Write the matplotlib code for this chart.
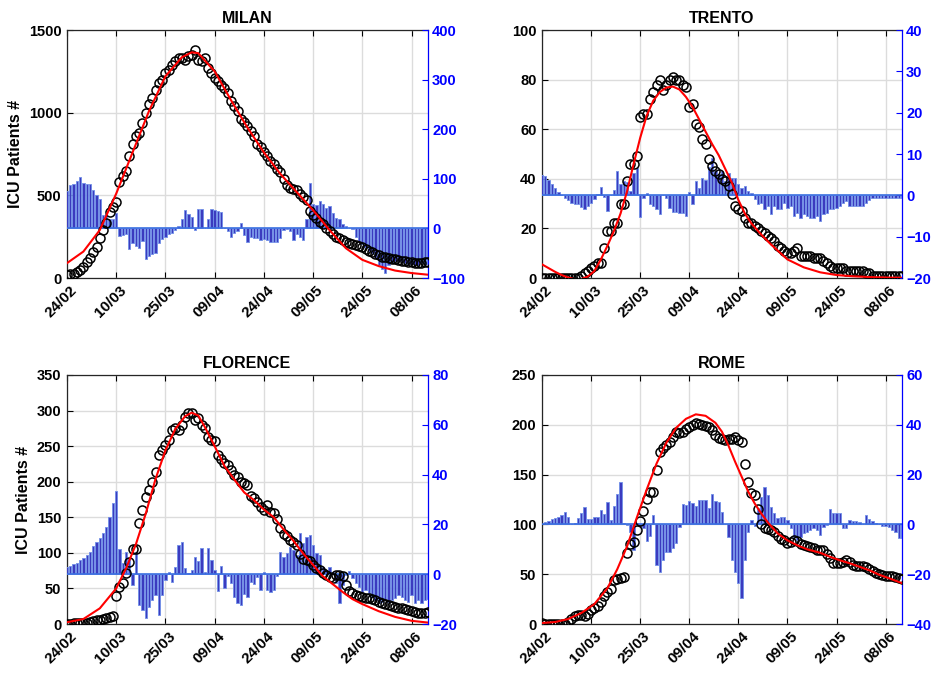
import matplotlib
matplotlib.use('Agg')
import matplotlib.pyplot as plt
from matplotlib.transforms import ScaledTranslation

plt.rcParams['font.family'] = ['Liberation Sans', 'DejaVu Sans']
plt.rcParams['font.weight'] = 'bold'
plt.rcParams['axes.titleweight'] = 'bold'
plt.rcParams['axes.labelweight'] = 'bold'

# day index 0 = 24/02
days = list(range(111))
tick_days = [0, 15, 30, 45, 60, 75, 90, 105]
tick_labels = ['24/02', '10/03', '25/03', '09/04', '24/04', '09/05', '24/05', '08/06']

# ---------------- MILAN ----------------
milan_icu = [20, 22, 25, 35, 50, 65, 95, 120, 160, 190,
             240, 290, 330, 400, 430, 460, 580, 620, 650, 740,
             810, 860, 880, 940, 1000, 1050, 1090, 1140, 1180, 1200,
             1240, 1260, 1290, 1310, 1330, 1330, 1320, 1340, 1350, 1380,
             1320, 1315, 1330, 1270, 1240, 1210, 1190, 1165, 1150, 1120,
             1070, 1040, 1010, 960, 945, 920, 890, 860, 810, 790,
             760, 740, 710, 690, 660, 640, 600, 560, 545, 540,
             530, 510, 490, 470, 405, 380, 360, 340, 325, 300,
             285, 265, 250, 240, 230, 220, 210, 205, 200, 195,
             185, 175, 165, 155, 145, 140, 130, 125, 120, 115,
             112, 108, 104, 100, 98, 95, 93, 92, 92, 95,
             98]
milan_fit_days = [0, 5, 10, 15, 20, 25, 30, 35, 38, 40, 45, 50, 55, 60, 65, 70, 75, 80, 85, 90, 95, 100, 105, 110]
milan_fit = [90, 160, 290, 510, 760, 1010, 1220, 1335, 1365, 1360, 1250, 1075,
             910, 760, 630, 520, 410, 290, 180, 110, 72, 45, 30, 20]
milan_bars = [75, 88, 90, 95, 103, 92, 90, 90, 78, 68,
              60, 28, 30, 18, 18, 32, -15, -14, -12, -42,
              -30, -35, -39, -25, -62, -55, -52, -49, -30, -22,
              -18, -12, -10, -3, 5, 18, 38, 29, 24, -3,
              40, 39, 0, 18, 40, 37, 36, 33, 0, -5,
              -18, -10, -6, 11, -14, -28, -18, -19, -20, -24,
              -22, -24, -27, -28, -27, -20, -3, -2, -6, -23,
              -12, -18, -24, 18, 92, 50, 48, 55, 50, 42,
              45, 32, 22, 18, 8, 4, 1, -2, -18, -25,
              -32, -38, -45, -49, -58, -73, -82, -90, -74, -70,
              -66, -66, -68, -70, -72, -72, -74, -74, -70, -72,
              -72]

# ---------------- TRENTO ----------------
trento_icu = [0, 0, 0, 0, 0, 0, 0, 0, 0, 0,
              0, 0, 1, 2, 3, 4, 5, 6, 6, 12,
              19, 19, 22, 22, 30, 30, 39, 46, 46, 49,
              65, 66, 66, 72, 75, 78, 80, 76, 78, 80,
              81, 80, 80, 78, 77, 69, 70, 62, 61, 56,
              54, 48, 45, 43, 42, 40, 39, 37, 34, 29,
              28, 27, 24, 22, 22, 21, 20, 19, 18, 17,
              16, 15, 13, 12, 11, 10, 10, 11, 12, 9,
              9, 9, 9, 8, 8, 8, 7, 6, 5, 4,
              4, 4, 4, 3, 3, 3, 3, 3, 3, 2,
              2, 1, 1, 1, 1, 1, 1, 1, 1, 1,
              1]
trento_fit_days = [0, 2, 4, 6, 8, 10, 12, 14, 16, 18, 20, 22, 24, 26, 28, 30, 32, 34, 36, 38,
                   40, 42, 44, 46, 48, 50, 52, 54, 56, 58, 60, 62, 64, 67, 70, 75, 80, 85, 90,
                   95, 100, 105, 110]
trento_fit = [5.5, 4.0, 2.5, 1.2, 0.2, -0.5, -0.4, 0.6, 2.8, 7.5, 13, 19, 26, 35, 46, 56.5,
              65.5, 71.5, 75, 76.8, 77.2, 76, 73, 69, 64, 59, 54, 49.5, 44, 38.5, 31.5, 26,
              22, 17.5, 13.5, 7.5, 4.3, 2.3, 1.2, 0.7, 0.4, 0.2, 0.1]
trento_bars = [4.9, 4.6, 3.6, 2.8, 1.8, 0.9, 0.1, -0.6, -1.2, -1.8,
               -2.2, -2.2, -2.8, -3.4, -2.6, -1.8, -1.0, 0.4, 2.1, -0.4,
               -3.8, 0.2, 1.4, 6.0, 2.7, 3.5, 3.2, 1.0, 5.3, 6.7,
               -5.2, -0.6, 0.6, -2.2, -2.6, -3.4, -4.6, 0.2, -0.6, -3.0,
               -4.0, -4.0, -4.2, -4.2, -5.0, 0.8, -2.2, 3.5, 1.8, 4.3,
               3.6, 6.8, 9.1, 5.9, 5.1, 5.9, 3.5, 5.5, 4.1, 4.1,
               2.7, 1.8, 2.3, 1.0, 0.5, -1.0, -2.2, -1.8, -3.4, -2.6,
               -4.6, -2.6, -3.4, -3.4, -1.8, -3.0, -2.6, -5.0, -4.2, -5.4,
               -4.6, -5.0, -5.4, -5.6, -5.0, -6.2, -4.6, -4.2, -3.4, -3.4,
               -3.0, -2.6, -1.8, -1.4, -2.6, -2.6, -2.6, -2.6, -2.6, -1.8,
               -1.2, -0.6, -0.6, -0.6, -0.6, -0.6, -0.6, -0.6, -0.6, -0.6,
               -0.6]

# ---------------- FLORENCE ----------------
florence_icu = [0, 0, 1, 1, 1, 2, 2, 3, 4, 5,
                6, 7, 9, 10, 11, 39, 52, 58, 72, 87,
                106, 106, 142, 160, 178, 188, 200, 214, 238, 245,
                252, 259, 273, 275, 273, 280, 291, 297, 296, 287,
                289, 280, 276, 263, 259, 257, 238, 232, 226, 224,
                216, 209, 207, 200, 198, 196, 180, 177, 172, 165,
                160, 167, 158, 156, 148, 135, 127, 123, 118, 115,
                111, 99, 92, 90, 88, 83, 79, 76, 72, 69,
                66, 64, 69, 69, 67, 55, 46, 43, 41, 40,
                38, 37, 36, 35, 34, 31, 29, 28, 27, 25,
                24, 23, 22, 21, 20, 18, 17, 16, 15, 16,
                17]
florence_fit_days = [0, 5, 10, 15, 18, 21, 24, 27, 30, 33, 36, 38, 40, 42, 45, 48, 51, 54, 57,
                     60, 63, 66, 69, 72, 75, 78, 81, 84, 87, 90, 95, 100, 105, 110]
florence_fit = [2.5, 7, 22, 50, 78, 112, 155, 204, 244, 274, 292, 297, 293, 277, 250, 222,
                203, 185, 174, 161, 150, 133, 117, 99, 83, 67, 56, 45, 35, 28, 18, 10, 4.5, 2]
florence_bars = [2.8, 3.3, 4.0, 4.6, 5.7, 6.6, 7.7, 9.0, 11.4, 13.0,
                 14.5, 16.5, 19.0, 23.0, 28.7, 33.4, 10.0, 4.4, 9.0, 6.4,
                 -4.3, 9.0, -12.4, -14.4, -17.7, -13.0, -10.3, -8.3, -16.4, -8.3,
                 -2.3, 1.0, -3.0, 3.0, 11.7, 13.0, 2.3, 0.3, 1.6, 7.0,
                 5.4, 10.4, 1.0, 10.4, 5.7, 1.6, -6.6, 3.4, -5.7, -0.7,
                 -3.7, -9.0, -11.7, -12.4, -8.0, -9.0, -3.0, -4.0, -1.0, -6.3,
                 1.0, -6.3, -7.0, -6.5, -0.7, 9.0, 6.8, 8.4, 11.0, 9.7,
                 7.7, 16.7, 12.4, 15.0, 15.7, 11.7, 8.4, 7.7, 3.0, 1.6,
                 3.0, 1.0, -3.7, -11.7, -4.3, -0.3, 1.3, -1.6, -3.7, -5.0,
                 -7.0, -6.3, -7.7, -9.0, -10.4, -11.7, -11.0, -10.4, -11.0, -10.4,
                 -9.7, -8.4, -9.0, -10.4, -11.0, -8.4, -11.7, -10.4, -11.7, -10.4,
                 -10.0]

# ---------------- ROME ----------------
rome_icu = [1, 0, 0, 0, 0, 0, 0, 0, 2, 5,
            8, 9, 9, 8, 10, 14, 16, 18, 22, 28,
            32, 35, 44, 45, 46, 47, 71, 80, 82, 94,
            103, 113, 126, 133, 133, 155, 173, 177, 180, 183,
            188, 193, 192, 193, 196, 198, 200, 202, 201, 200,
            199, 198, 195, 190, 187, 186, 185, 186, 186, 188,
            185, 183, 161, 143, 132, 130, 115, 100, 96, 95,
            94, 92, 88, 85, 84, 81, 82, 84, 83, 80,
            79, 78, 77, 76, 74, 74, 74, 70, 66, 61,
            61, 61, 62, 64, 62, 59, 58, 58, 58, 57,
            55, 53, 51, 50, 49, 48, 48, 48, 47, 46,
            45]
rome_fit_days = [0, 4, 8, 12, 16, 20, 23, 26, 29, 32, 35, 38, 41, 44, 47, 50, 53, 55, 57, 59,
                 61, 63, 65, 67, 69, 72, 75, 78, 81, 85, 88, 91, 94, 97, 100, 103, 106, 110]
rome_fit = [1, 2, 5, 11, 20, 36, 55, 78, 107, 135, 161, 182, 197, 206, 210.5, 209, 202, 193,
            179, 163, 148, 133, 121, 111, 102, 91, 84, 79, 75, 71.5, 67.5, 64, 61, 57.5, 54,
            49.5, 46, 41]
rome_bars = [0.3, 0.8, 1.5, 2.0, 2.4, 2.8, 3.7, 5.1, 3.1, 0.2,
             0.7, 2.4, 4.4, 6.9, 2.0, 2.0, 3.1, 3.0, 5.8, 4.2,
             8.8, 1.8, 7.2, 12.3, 16.9, 0.7, -0.3, -2.9, -10.3, 0.4,
             -0.5, -1.6, -6.5, -4.7, 3.8, -16.3, -19.0, -14.3, -10.9, -10.9,
             -9.6, -7.6, -1.2, 8.3, 7.8, 9.2, 8.5, 7.4, 9.8, 9.8,
             10.0, 6.4, 12.4, 9.2, 9.0, 5.1, 0.0, -5.0, -14.3, -19.0,
             -23.7, -29.7, -14.3, -3.0, 1.7, -0.5, 6.4, 11.1, 15.1, 11.8,
             7.1, 4.4, 2.4, 3.1, 3.1, 1.8, -1.6, -5.0, -6.3, -5.0,
             -3.6, -2.9, -2.3, -1.6, -2.3, -4.3, -0.9, -0.3, 6.0, 4.6,
             4.6, 4.6, -1.6, -1.6, 1.7, 1.5, 1.5, 1.1, 0.0, 3.7,
             2.0, 1.5, 0.7, 0.0, -0.7, -0.7, -1.2, -2.3, -3.0, -5.6,
             -5.6]

bar_face = '#3b3bbf'
bar_edge = '#6f8fe8'
base_col = '#3a6fe0'
blue = '#0000ff'

fig = plt.figure(figsize=(9.34, 6.73), dpi=100)
shift = ScaledTranslation(3 / 100, 0, fig.dpi_scale_trans)


def panel(rect, title, icu, fit_d, fit_v, bars, ylim, yticks, rlim, rticks, ylabel=False):
    # bottom layer: grid + left/x axes
    ax = fig.add_axes(rect)
    # middle layer: bars on right axis
    ax2 = ax.twinx()
    # top layer: circles and fit, same scales as left axis
    ax3 = fig.add_axes(rect, sharex=ax, sharey=ax, label=title + '_top')
    ax3.set_axis_off()
    ax3.patch.set_visible(False)

    ax2.bar(days, bars, width=0.7, color=bar_face, edgecolor=bar_edge, linewidth=0.6)
    ax2.axhline(0, color=base_col, lw=1.2)
    ax2.set_ylim(rlim)
    ax2.set_yticks(rticks)

    ax3.plot(days, icu, 'o', mfc='none', mec='k', ms=6.5, mew=1.1)
    ax3.plot(fit_d, fit_v, color='r', lw=1.5)

    ax.set_xlim(0, 110)
    ax.set_ylim(ylim)
    ax.set_yticks(yticks)
    ax.set_xticks(tick_days)
    ax.set_xticklabels(tick_labels, rotation=45, ha='right', rotation_mode='anchor')
    ax.grid(True, color='#dcdcdc', lw=1)

    ax.tick_params(direction='in', length=4, width=0.8, labelsize=10.5, top=True, pad=4)
    ax.tick_params(axis='x', labelsize=11)
    ax2.tick_params(direction='in', length=4, width=0.8, labelsize=10.5, colors=blue, pad=3)
    for s in ['left', 'top', 'bottom']:
        ax.spines[s].set_color('#262626')
        ax.spines[s].set_linewidth(0.9)
    ax.spines['right'].set_visible(False)
    for s in ['left', 'top', 'bottom']:
        ax2.spines[s].set_visible(False)
    ax2.spines['right'].set_color(blue)
    ax2.spines['right'].set_linewidth(0.9)
    for lab in ax.get_xticklabels():
        lab.set_transform(lab.get_transform() + shift)
    for lab in ax.get_xticklabels() + ax.get_yticklabels() + ax2.get_yticklabels():
        lab.set_fontweight('bold')

    ax.set_title(title, fontsize=11.5, fontweight='bold', pad=5)
    if ylabel:
        ax.set_ylabel('ICU Patients #', fontsize=11.5, fontweight='bold', labelpad=4)
    return ax


panel([0.0717, 0.5869, 0.3865, 0.3685], 'MILAN', milan_icu, milan_fit_days, milan_fit, milan_bars,
      (0, 1500), [0, 500, 1000, 1500], (-100, 400), [-100, 0, 100, 200, 300, 400], ylabel=True)
panel([0.5803, 0.5869, 0.3854, 0.3685], 'TRENTO', trento_icu, trento_fit_days, trento_fit, trento_bars,
      (0, 100), [0, 20, 40, 60, 80, 100], (-20, 40), [-20, -10, 0, 10, 20, 30, 40])
panel([0.0717, 0.0728, 0.3865, 0.370], 'FLORENCE', florence_icu, florence_fit_days, florence_fit, florence_bars,
      (0, 350), [0, 50, 100, 150, 200, 250, 300, 350], (-20, 80), [-20, 0, 20, 40, 60, 80], ylabel=True)
panel([0.5803, 0.0728, 0.3854, 0.370], 'ROME', rome_icu, rome_fit_days, rome_fit, rome_bars,
      (0, 250), [0, 50, 100, 150, 200, 250], (-40, 60), [-40, -20, 0, 20, 40, 60])

fig.savefig('out.png', dpi=100)
